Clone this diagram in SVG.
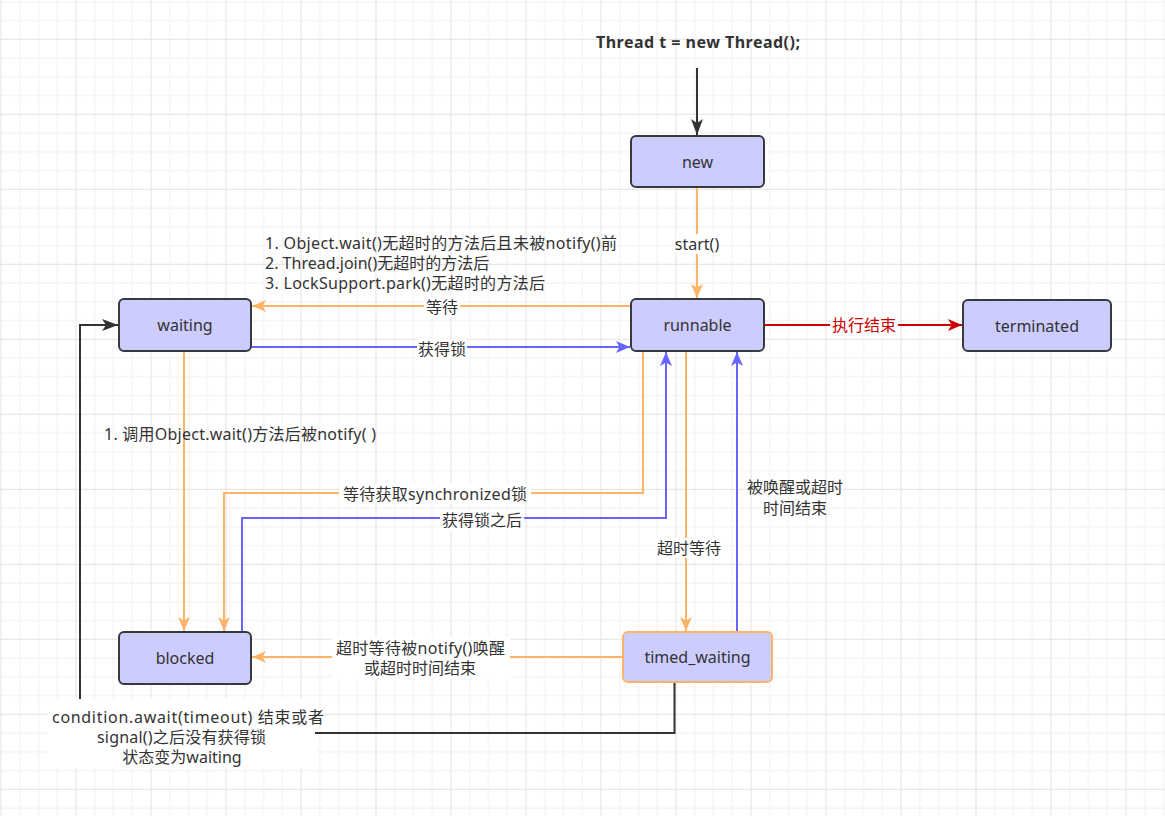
<svg xmlns="http://www.w3.org/2000/svg" width="1165" height="816" viewBox="0 0 1165 816">
<style>
.t{font-family:"Noto Sans","Noto Sans CJK SC",sans-serif;font-size:16px;fill:#333333;dominant-baseline:central}
.c{text-anchor:middle}
.node rect{fill:#ccccff;stroke:#36393d;stroke-width:2}
.e{fill:none;stroke-width:2}
.or{stroke:#ffb366}
.bl{stroke:#6666ff}
.rd{stroke:#cc0000}
.bk{stroke:#333333}
.bg{fill:#ffffff}
</style>
<defs>
<pattern id="grid" patternUnits="userSpaceOnUse" x="0.5" y="38.8" width="75" height="75">
<path d="M19.25 0V75M38 0V75M56.75 0V75M0 19.25H75M0 38H75M0 56.75H75" stroke="#efefef" stroke-width="1" fill="none"/>
<path d="M0.5 0V75M0 0.5H75" stroke="#e2e2e2" stroke-width="1" fill="none"/>
</pattern>
<marker id="aor" markerUnits="userSpaceOnUse" viewBox="0 0 14 12" refX="14" refY="6" markerWidth="14" markerHeight="12" orient="auto"><path d="M0,0 L14,6 L0,12 L3.5,6 Z" fill="#ffb366"/></marker>
<marker id="abl" markerUnits="userSpaceOnUse" viewBox="0 0 14 12" refX="14" refY="6" markerWidth="14" markerHeight="12" orient="auto"><path d="M0,0 L14,6 L0,12 L3.5,6 Z" fill="#6666ff"/></marker>
<marker id="ard" markerUnits="userSpaceOnUse" viewBox="0 0 14 12" refX="14" refY="6" markerWidth="14" markerHeight="12" orient="auto"><path d="M0,0 L14,6 L0,12 L3.5,6 Z" fill="#cc0000"/></marker>
<marker id="abk" markerUnits="userSpaceOnUse" viewBox="0 0 16 12" refX="16" refY="6" markerWidth="16" markerHeight="12" orient="auto"><path d="M0,0 L16,6 L0,12 L4,6 Z" fill="#333333"/></marker>
</defs>
<rect width="1165" height="816" fill="#ffffff"/>
<rect width="1165" height="816" fill="url(#grid)"/>

<text class="t c" x="698" y="42" style="font-weight:bold" textLength="204" lengthAdjust="spacing">Thread t = new Thread();</text>

<g id="connectors">
<path class="e bk" d="M697 68V135" marker-end="url(#abk)"/>
<path class="e or" d="M697 187V298" marker-end="url(#aor)"/>
<path class="e or" d="M631 306H252" marker-end="url(#aor)"/>
<path class="e bl" d="M251 347H630" marker-end="url(#abl)"/>
<path class="e rd" d="M764 325H962" marker-end="url(#ard)"/>
<path class="e or" d="M184 351V631" marker-end="url(#aor)"/>
<path class="e or" d="M643 351V493H224V631" marker-end="url(#aor)"/>
<path class="e bl" d="M242 632V518H666V352" marker-end="url(#abl)"/>
<path class="e or" d="M686 351V631" marker-end="url(#aor)"/>
<path class="e bl" d="M737 632V352" marker-end="url(#abl)"/>
<path class="e or" d="M623 657H252" marker-end="url(#aor)"/>
<path class="e bk" d="M674.5 682V733H80V325H118" marker-end="url(#abk)"/>

<rect class="bg" x="676" y="234" width="42" height="20"/>
<text class="t c" x="697" y="244">start()</text>
<rect class="bg" x="424" y="297" width="36" height="20"/>
<text class="t c" x="442" y="307">等待</text>
<rect class="bg" x="417" y="339" width="50" height="20"/>
<text class="t c" x="442" y="349">获得锁</text>
<rect class="bg" x="830" y="315" width="68" height="20"/>
<text class="t c" x="864" y="325" style="fill:#cc0000">执行结束</text>
<rect class="bg" x="339" y="484" width="192" height="20"/>
<text class="t c" x="435" y="494" textLength="184" lengthAdjust="spacing">等待获取synchronized锁</text>
<rect class="bg" x="440" y="510" width="84" height="20"/>
<text class="t c" x="482" y="520">获得锁之后</text>
<rect class="bg" x="655" y="538" width="68" height="20"/>
<text class="t c" x="689" y="548">超时等待</text>
<rect class="bg" x="332" y="637" width="178" height="42"/>
<text class="t c" x="420.5" y="648" textLength="169" lengthAdjust="spacing">超时等待被notify()唤醒</text>
<text class="t c" x="420" y="668">或超时时间结束</text>
<rect class="bg" x="48" y="699" width="267" height="69"/>
<text class="t c" x="188" y="716.5" textLength="272" lengthAdjust="spacing">condition.await(timeout) 结束或者</text>
<text class="t c" x="181.5" y="736.5" textLength="169" lengthAdjust="spacing">signal()之后没有获得锁</text>
<text class="t c" x="182" y="756.5">状态变为waiting</text>

<text class="t" x="104" y="434" textLength="272" lengthAdjust="spacing">1. 调用Object.wait()方法后被notify( )</text>
<text class="t c" x="795" y="487">被唤醒或超时</text>
<text class="t c" x="795" y="508">时间结束</text>
<text class="t" x="265" y="243" textLength="352" lengthAdjust="spacing">1. Object.wait()无超时的方法后且未被notify()前</text>
<text class="t" x="265" y="263">2. Thread.join()无超时的方法后</text>
<text class="t" x="265" y="283" textLength="280" lengthAdjust="spacing">3. LockSupport.park()无超时的方法后</text>
</g>

<g id="node-new" class="node"><rect x="631" y="136" width="133" height="51" rx="5"/><text class="t c" x="697.5" y="161.5">new</text></g>
<g id="node-runnable" class="node"><rect x="631" y="299" width="133" height="52" rx="5"/><text class="t c" x="697.5" y="325">runnable</text></g>
<g id="node-terminated" class="node"><rect x="963" y="300" width="148" height="51" rx="5"/><text class="t c" x="1037" y="325.5">terminated</text></g>
<g id="node-waiting" class="node"><rect x="119" y="299" width="132" height="52" rx="5"/><text class="t c" x="185" y="325">waiting</text></g>
<g id="node-blocked" class="node"><rect x="119" y="632" width="132" height="52" rx="5"/><text class="t c" x="185" y="658">blocked</text></g>
<g id="node-timed_waiting" class="node"><rect x="623" y="632" width="149" height="50" rx="5" style="stroke:#ffb366"/><text class="t c" x="697.5" y="657">timed_waiting</text></g>
</svg>
